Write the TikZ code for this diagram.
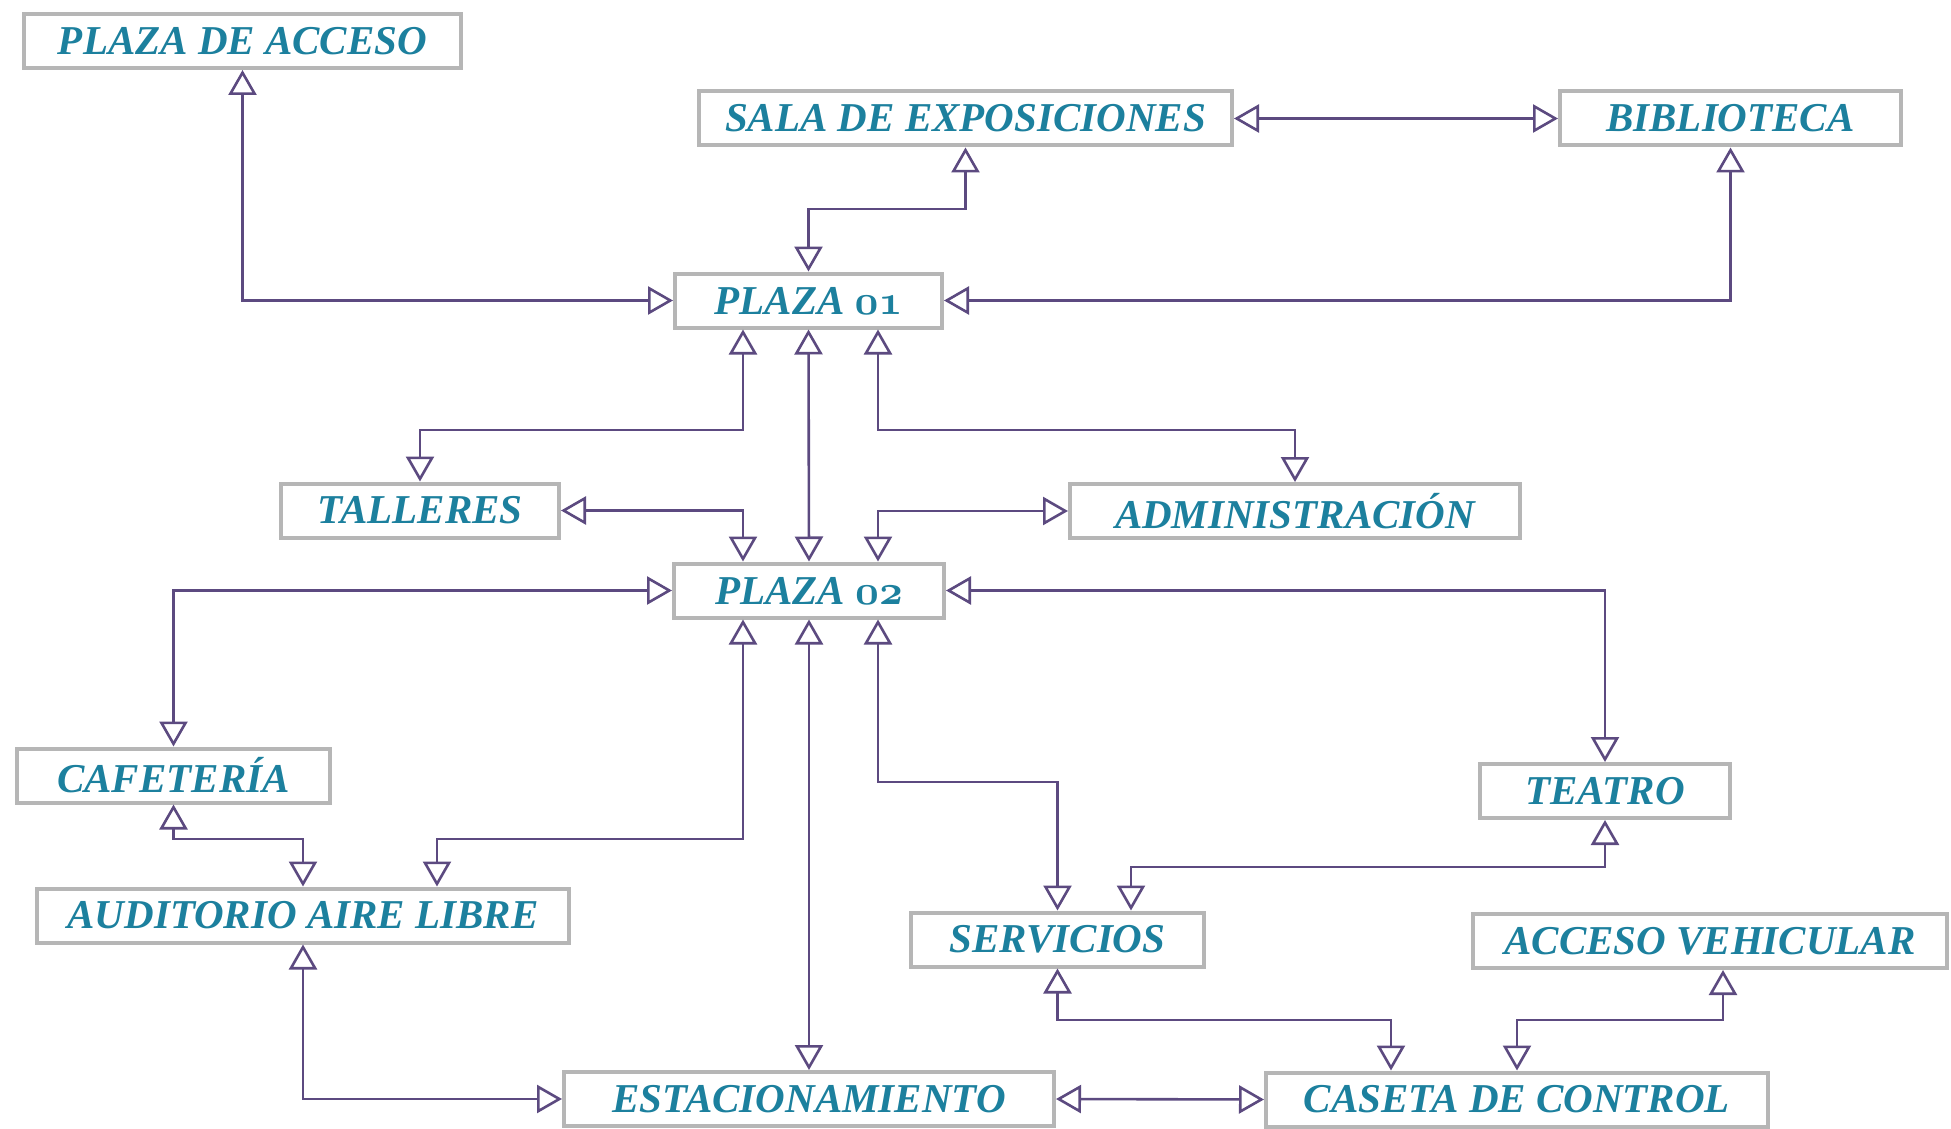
\documentclass[tikz,border=0pt]{standalone}
\usepackage{fontspec}
\setmainfont{Liberation Serif}
\usetikzlibrary{arrows.meta}
\definecolor{txt}{RGB}{28,128,158}
\definecolor{brd}{RGB}{182,182,182}
\definecolor{lnk}{RGB}{92,74,128}
\newcommand{\osn}[1]{{\boldmath$\mathnormal{#1}$}}
\begin{document}
\begin{tikzpicture}[x=0.5pt,y=-0.5pt,
  room/.style={draw=brd, line width=2pt, fill=white, text=txt, inner sep=0pt,
    minimum height=27pt, font=\bfseries\itshape\fontsize{20.5}{24}\selectfont},
  conn/.style={draw=lnk, line width=1.3pt,
    {Triangle[open, length=12.5pt, width=14pt, line width=1.3pt]}-{Triangle[open, length=12.5pt, width=14pt, line width=1.3pt]}}]
\useasboundingbox[fill=white] (0,0) rectangle (1951,1129);

% rooms
\node[room, minimum width=218.5pt] (pda) at (242.5,41) {PLAZA DE ACCESO};
\node[room, minimum width=266.5pt] (sala) at (965.5,118.5) {SALA DE EXPOSICIONES};
\node[room, minimum width=170.5pt] (bib) at (1730.5,118.5) {BIBLIOTECA};
\node[room, minimum width=133.5pt] (p01) at (808.5,300.5) {PLAZA \osn{01}};
\node[room, minimum width=139pt] (tal) at (420,510.5) {TALLERES};
\node[room, minimum width=225pt] (adm) at (1295,511) {ADMINISTRACIÓN};
\node[room, minimum width=135pt] (p02) at (809,590.5) {PLAZA \osn{02}};
\node[room, minimum width=156.5pt] (caf) at (173.5,775.5) {CAFETERÍA};
\node[room, minimum width=125pt] (tea) at (1605,791) {TEATRO};
\node[room, minimum width=266pt] (aud) at (303,915.5) {AUDITORIO AIRE LIBRE};
\node[room, minimum width=146.5pt] (ser) at (1057.5,939.5) {SERVICIOS};
\node[room, minimum width=237pt] (av) at (1710,941) {ACCESO VEHICULAR};
\node[room, minimum width=245pt] (est) at (809,1099) {ESTACIONAMIENTO};
\node[room, minimum width=251pt] (cas) at (1517,1099.5) {CASETA DE CONTROL};

% junction levels
\coordinate (j1) at (0,209);
\coordinate (j2) at (0,430);
\coordinate (j3) at (0,839);
\coordinate (j4) at (0,782);
\coordinate (j5) at (0,867);
\coordinate (j6) at (0,1020);

% connectors
\draw[conn] (pda.south) |- (p01.west);
\draw[conn] (sala.east) -- (bib.west);
\draw[conn] (sala.south) -- (sala.south |- j1) -| (p01.north);
\draw[conn] (bib.south) |- (p01.east);
\draw[conn] ([xshift=-32.75pt]p01.south) -- ([xshift=-32.75pt]p01.south |- j2) -| (tal.north);
\draw[conn] (p01.south) -- (p02.north);
\draw[conn] ([xshift=34.75pt]p01.south) -- ([xshift=34.75pt]p01.south |- j2) -| (adm.north);
\draw[conn] (tal.east) -| ([xshift=-33pt]p02.north);
\draw[conn] (adm.west) -| ([xshift=34.5pt]p02.north);
\draw[conn] (p02.west) -| (caf.north);
\draw[conn] (p02.east) -| (tea.north);
\draw[conn] ([xshift=-33pt]p02.south) -- ([xshift=-33pt]p02.south |- j3) -| ([xshift=67pt]aud.north);
\draw[conn] (caf.south) -- (caf.south |- j3) -| (aud.north);
\draw[conn] (p02.south) -- (est.north);
\draw[conn] ([xshift=34.5pt]p02.south) -- ([xshift=34.5pt]p02.south |- j4) -| (ser.north);
\draw[conn] (tea.south) -- (tea.south |- j5) -| ([xshift=36.75pt]ser.north);
\draw[conn] (aud.south) |- (est.west);
\draw[conn] (est.east) -- (cas.west);
\draw[conn] (ser.south) -- (ser.south |- j6) -| ([xshift=-63pt]cas.north);
\draw[conn] ([xshift=6.5pt]av.south) -- ([xshift=6.5pt]av.south |- j6) -| (cas.north);
\end{tikzpicture}
\end{document}
